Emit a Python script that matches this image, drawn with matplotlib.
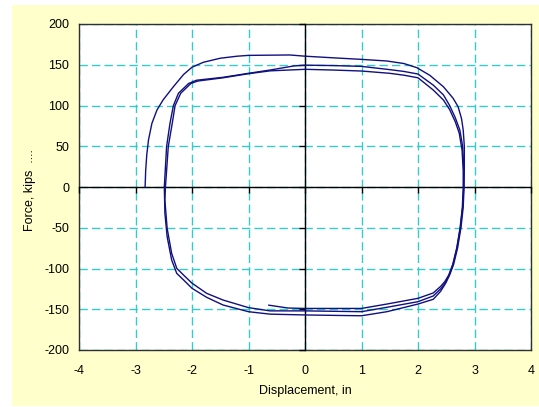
import matplotlib
matplotlib.use('Agg')
import matplotlib.pyplot as plt
from matplotlib.patches import Rectangle
import numpy as np

plt.rcParams['font.family'] = ['Liberation Sans', 'DejaVu Sans']

# ---- data (displacement in, force kips) ----
cycle1_disp = [-2.83, -2.82, -2.80, -2.77, -2.71, -2.62, -2.51, -2.33, -2.15, -2.0, -1.80, -1.50,
               -1.20, -1.0, -0.27, 0.0, 0.5, 1.0, 1.45, 1.75, 1.98, 2.21, 2.45, 2.62, 2.71, 2.77,
               2.80, 2.82, 2.82, 2.815, 2.80, 2.76, 2.70, 2.63, 2.56, 2.49, 2.40, 2.27, 2.0, 1.45,
               1.0, 0.0, -0.62, -1.0, -1.45, -1.74, -2.0, -2.15, -2.27, -2.36, -2.44, -2.48, -2.49]
cycle1_force = [0, 20, 40, 57.7, 78, 94.5, 107, 123, 138, 147, 153, 158,
                160.5, 161.5, 162, 160.5, 158.5, 156.6, 154.6, 151.5, 146.4, 137, 123, 109, 98.5, 84,
                70, 50, 25, 0, -25, -50, -75, -95, -108, -118, -128, -137.8, -143.6, -153,
                -158, -157, -156, -153, -144.8, -135.4, -124.3, -114, -106, -89.6, -61, -32, 0]

cycle2_disp = [-2.49, -2.45, -2.39, -2.33, -2.24, -2.06, -1.92, -1.45, -1.0, -0.62, -0.2, 0.0,
               0.5, 1.0, 1.5, 1.75, 2.0, 2.27, 2.45, 2.56, 2.66, 2.74, 2.79, 2.81, 2.81,
               2.79, 2.75, 2.69, 2.62, 2.55, 2.48, 2.40, 2.27, 2.0, 1.45, 1.0, 0.0, -0.62,
               -1.0, -1.45, -1.74, -2.0, -2.15, -2.27, -2.36, -2.44, -2.48, -2.47]
cycle2_force = [0, 49.5, 78, 99.8, 115, 127, 131, 134.6, 139.5, 143.5, 148.5, 149.5,
                149, 148, 144, 141.8, 138.6, 125, 113, 100, 85, 70, 50, 25, 0,
                -25, -50, -75, -95, -108, -118, -125, -133.7, -140.7, -147.6, -153, -152, -152,
                -148, -138.7, -130.5, -118, -108, -99.8, -81.4, -50.7, -16, 0]

cycle3_disp = [-2.47, -2.42, -2.35, -2.30, -2.20, -2.02, -1.90, -1.45, -1.0, -0.62, 0.0, 0.5,
               1.0, 1.5, 1.75, 2.0, 2.27, 2.45, 2.56, 2.66, 2.73, 2.78, 2.80, 2.80,
               2.785, 2.745, 2.685, 2.615, 2.545, 2.475, 2.40, 2.27, 2.0, 1.45, 1.0, 0.0,
               -0.3, -0.64]
cycle3_force = [0, 49.5, 78, 99.8, 115, 127, 130, 134, 139, 142.5, 144.4, 143.5,
                142.3, 139.5, 137.2, 134, 119, 106.7, 95, 80, 66, 45, 20, 0,
                -25, -50, -75, -95, -108, -116, -122, -130, -136.6, -143.6, -149, -149,
                -148.5, -145]

x_ticks = [-4, -3, -2, -1, 0, 1, 2, 3, 4]
y_ticks = [-200, -150, -100, -50, 0, 50, 100, 150, 200]

W, H = 539, 407
fig = plt.figure(figsize=(W / 100, H / 100), dpi=100)
fig.patch.set_facecolor('white')
fig.patches.append(Rectangle((12 / W, 1 / H), 1 - 12 / W, (406 - 5) / H,
                             transform=fig.transFigure, facecolor='#FFFFCC',
                             edgecolor='none', zorder=-10))

rect = [79 / W, (H - 350) / H, 452 / W, 326 / H]
ax = fig.add_axes(rect)
ax.set_zorder(1)
ax.set_facecolor('white')
ax.set_xlim(-4, 4)
ax.set_ylim(-200, 200)
ax.set_xticks(x_ticks)
ax.set_yticks(y_ticks)
ax.set_xticklabels([str(t) for t in x_ticks])
ax.set_yticklabels([str(t) for t in y_ticks])
ax.grid(True, color='#33CCCC', linestyle=(0, (6, 3)), linewidth=1.0)
ax.tick_params(axis='x', length=0, labelsize=9, pad=11, colors='black')
ax.tick_params(axis='y', length=0, labelsize=9, pad=7, colors='black')
for s in ax.spines.values():
    s.set_color('#303030')
    s.set_linewidth(1.0)

# overlay axes for the zero axis lines with their ticks
ax2 = fig.add_axes(rect)
ax2.set_zorder(2)
ax2.set_xlim(-4, 4)
ax2.set_ylim(-200, 200)
ax2.patch.set_visible(False)
ax2.spines['top'].set_visible(False)
ax2.spines['right'].set_visible(False)
ax2.spines['left'].set_position(('data', 0))
ax2.spines['bottom'].set_position(('data', 0))
for k in ('left', 'bottom'):
    ax2.spines[k].set_color('black')
    ax2.spines[k].set_linewidth(1.0)
ax2.set_xticks(x_ticks)
ax2.set_yticks(y_ticks)
ax2.tick_params(direction='out', length=4, width=1, labelleft=False, labelbottom=False)

line_color = '#101080'
for d, f in ((cycle1_disp, cycle1_force), (cycle2_disp, cycle2_force), (cycle3_disp, cycle3_force)):
    ax2.plot(d, f, color=line_color, linewidth=1.0, zorder=5)

fig.text(305 / W, 1 - 391 / H, 'Displacement, in', ha='center', va='center', fontsize=9)
fig.text(30 / W, 1 - 190 / H, 'Force, kips  ....', ha='center', va='center', fontsize=9,
         rotation=90)

fig.savefig('out.png', dpi=100)
